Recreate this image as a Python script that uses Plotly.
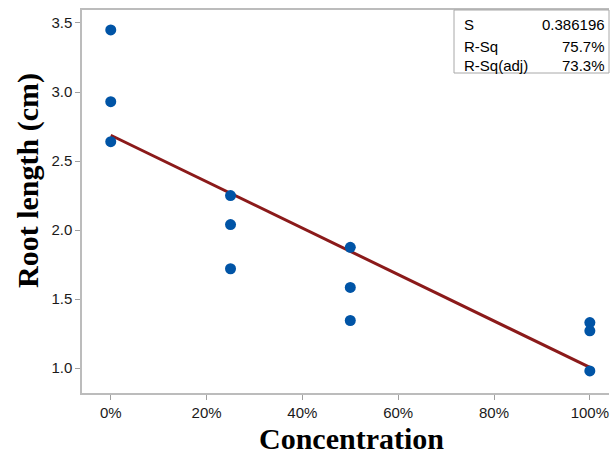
import numpy as np
import plotly.graph_objects as go

concentration = [0, 0, 0, 25, 25, 25, 50, 50, 50, 100, 100, 100]
root_length = [3.45, 2.93, 2.64, 2.25, 2.04, 1.72, 1.875, 1.585, 1.345, 1.33, 1.27, 0.98]
x_ticks = [0, 20, 40, 60, 80, 100]
x_tick_labels = ["0%", "20%", "40%", "60%", "80%", "100%"]
y_ticks = [1.0, 1.5, 2.0, 2.5, 3.0, 3.5]
stat_labels = ["S", "R-Sq", "R-Sq(adj)"]
stat_values = ["0.386196", "75.7%", "73.3%"]
x_title = "Concentration"
y_title = "Root length (cm)"

slope, intercept = np.polyfit(concentration, root_length, 1)
fit_x = np.linspace(0, 100, 60)
fit_y = slope * fit_x + intercept

fig = go.Figure()
fig.add_trace(go.Scatter(x=fit_x, y=fit_y, mode="lines",
                         line=dict(color="#8B1A1A", width=3), hoverinfo="skip"))
fig.add_trace(go.Scatter(x=concentration, y=root_length, mode="markers",
                         marker=dict(color="#0054A6", size=11)))

W, H = 610, 452
L, R, T, B = 82, 609, 10, 393  # page pixel positions of plot area


def px(x):
    return (x - L) / (R - L)


def py(y):
    return (B - y) / (B - T)


sans = "Liberation Sans, Arial"
serif = "Liberation Serif, Times New Roman"

ann = []
rows_y = [25, 46, 66]
for lab, val, ry in zip(stat_labels, stat_values, rows_y):
    ann.append(dict(x=px(462), y=py(ry), xref="paper", yref="paper", text=lab,
                    showarrow=False, xanchor="left", yanchor="middle",
                    font=dict(family=sans, size=15, color="#000")))
    ann.append(dict(x=px(607), y=py(ry), xref="paper", yref="paper", text=val,
                    showarrow=False, xanchor="right", yanchor="middle",
                    font=dict(family=sans, size=15, color="#000")))

ann.append(dict(x=px(351.5), y=py(438), xref="paper", yref="paper",
                text="<b>" + x_title + "</b>", showarrow=False,
                xanchor="center", yanchor="middle",
                font=dict(family=serif, size=30, color="#000")))
ann.append(dict(x=px(28), y=py(181), xref="paper", yref="paper",
                text="<b>" + y_title + "</b>", showarrow=False, textangle=-90,
                xanchor="center", yanchor="middle",
                font=dict(family=serif, size=30, color="#000")))

fig.update_layout(
    width=W, height=H,
    margin=dict(l=L, r=W - R, t=T, b=H - B),
    plot_bgcolor="white", paper_bgcolor="white",
    showlegend=False,
    annotations=ann,
    shapes=[dict(type="rect", xref="paper", yref="paper",
                 x0=px(454), x1=1.0, y0=py(73), y1=1.0,
                 line=dict(color="#a8a8a8", width=1), fillcolor="white", layer="above")],
    xaxis=dict(range=[-6.0, 104.0], tickvals=x_ticks, ticktext=x_tick_labels,
               showgrid=False, zeroline=False, showline=True, mirror=True,
               linecolor="#bcbcbc", linewidth=1.5, ticks="outside", ticklen=5,
               tickcolor="#a0a0a0", automargin=False,
               tickfont=dict(family=sans, size=15, color="#1a1a1a")),
    yaxis=dict(range=[0.82, 3.594], tickvals=y_ticks, tickformat=".1f",
               showgrid=False, zeroline=False, showline=True,
               linecolor="#bcbcbc", linewidth=1.5, ticks="outside", ticklen=5,
               tickcolor="#a0a0a0", automargin=False,
               tickfont=dict(family=sans, size=15, color="#1a1a1a")),
)

fig.write_html("out.html", config={"displayModeBar": False},
               post_script="document.body.style.margin='0';document.body.style.overflow='hidden';")
